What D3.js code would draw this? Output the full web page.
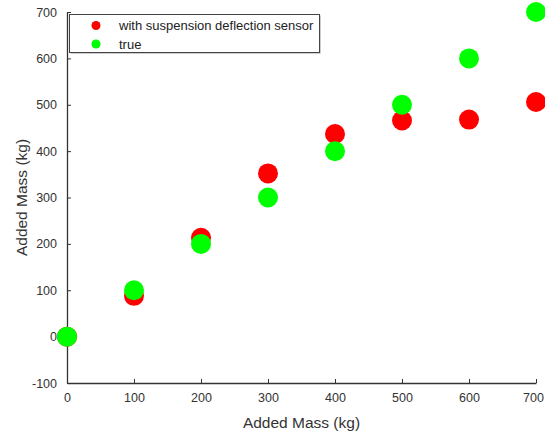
<!DOCTYPE html>
<html>
<head>
<meta charset="utf-8">
<script src="https://cdn.jsdelivr.net/npm/d3@7"></script>
<style>
  body { margin: 0; background: #fff; }
  text { font-family: "Liberation Sans", Arial, sans-serif; }
</style>
</head>
<body>
<div class="chart"></div>
<script>
const masses = [0, 100, 200, 300, 400, 500, 600, 700];
const sensorValues = [0, 88, 213, 352, 437, 466, 468, 506];
const trueValues = [0, 100, 200, 300, 400, 500, 600, 700];
const xTicks = [0, 100, 200, 300, 400, 500, 600, 700];
const yTicks = [-100, 0, 100, 200, 300, 400, 500, 600, 700];
const seriesNames = ["with suspension deflection sensor", "true"];
const seriesColors = ["#ff0000", "#00ff00"];

const width = 545;
const height = 432;
const svg = d3.select('.chart')
    .append('svg')
    .attr('width', width)
    .attr('height', height);

const x = d3.scaleLinear().domain([0, 700]).range([67, 536]);
const y = d3.scaleLinear().domain([-100, 700]).range([383, 12]);

// axes, ticks pointing inward
const xAxis = svg.append("g")
    .attr("transform", "translate(0," + y(-100) + ")")
    .call(d3.axisBottom(x).tickValues(xTicks).tickFormat(function(d) { return String(d); })
        .tickSizeInner(-4).tickSizeOuter(0).tickPadding(10));
const yAxis = svg.append("g")
    .attr("transform", "translate(" + x(0) + ",0)")
    .call(d3.axisLeft(y).tickValues(yTicks).tickFormat(function(d) { return String(d); })
        .tickSizeInner(-4).tickSizeOuter(0).tickPadding(10));

[xAxis, yAxis].forEach(function(a) {
    a.select(".domain").attr("stroke", "#333").attr("stroke-width", 1.3);
    a.selectAll(".tick line").attr("stroke", "#333");
    a.selectAll(".tick text")
        .attr("fill", "#333")
        .attr("font-size", 12.5)
        .attr("font-family", "Liberation Sans, Arial, sans-serif");
});
// last x label sits right at the edge
xAxis.selectAll(".tick text").filter(function(d) { return d === 700; }).attr("dx", -3);

svg.append("text")
    .attr("x", (x(0) + x(700)) / 2)
    .attr("y", 428)
    .attr("text-anchor", "middle")
    .attr("font-size", 15.5)
    .attr("fill", "#333")
    .text("Added Mass (kg)");

svg.append("text")
    .attr("transform", "translate(27," + ((y(-100) + y(700)) / 2) + ") rotate(-90)")
    .attr("text-anchor", "middle")
    .attr("font-size", 15.5)
    .attr("fill", "#333")
    .text("Added Mass (kg)");

// points: sensor first, true drawn on top
svg.selectAll(".sensor")
    .data(masses)
    .enter()
    .append("circle")
    .attr("class", "sensor")
    .attr("cx", function(d) { return x(d); })
    .attr("cy", function(d, i) { return y(sensorValues[i]); })
    .attr("r", 10)
    .attr("fill", seriesColors[0]);

svg.selectAll(".truth")
    .data(masses)
    .enter()
    .append("circle")
    .attr("class", "truth")
    .attr("cx", function(d) { return x(d); })
    .attr("cy", function(d, i) { return y(trueValues[i]); })
    .attr("r", 10)
    .attr("fill", seriesColors[1]);

// legend
const legend = svg.append("g");
legend.append("rect")
    .attr("x", 70.5).attr("y", 15.5)
    .attr("width", 250).attr("height", 38)
    .attr("fill", "#999");
legend.append("rect")
    .attr("x", 69.5).attr("y", 14.5)
    .attr("width", 250).attr("height", 38)
    .attr("fill", "#fff")
    .attr("stroke", "#444");

seriesNames.forEach(function(name, i) {
    legend.append("circle")
        .attr("cx", 96)
        .attr("cy", 25.5 + i * 18.5)
        .attr("r", 4.5)
        .attr("fill", seriesColors[i]);
    legend.append("text")
        .attr("x", 119)
        .attr("y", 30 + i * 18.5)
        .attr("font-size", 13)
        .attr("fill", "#222")
        .text(name);
});
</script>
</body>
</html>
